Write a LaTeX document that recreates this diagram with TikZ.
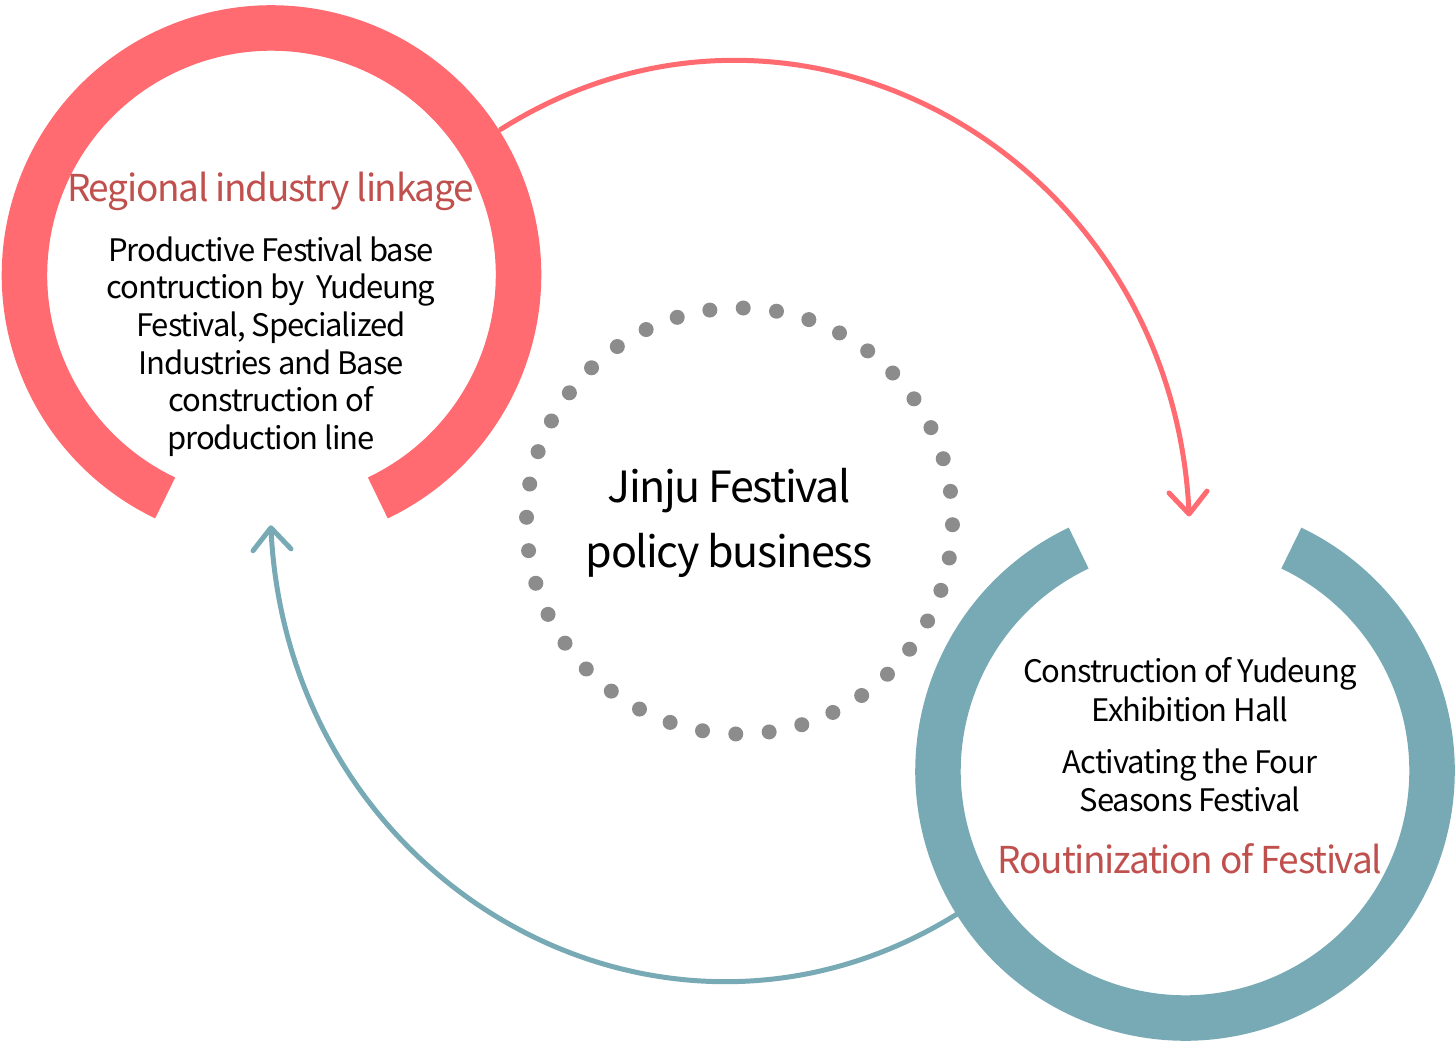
\documentclass[tikz,border=0pt]{standalone}
\usepackage{fontspec}
\setmainfont[LetterSpace=-3.5]{Noto Sans CJK KR}
\usetikzlibrary{arrows.meta}
\definecolor{ringred}{RGB}{255,107,112}
\definecolor{ringteal}{RGB}{119,170,180}
\definecolor{titlered}{RGB}{192,80,77}
\definecolor{dotgray}{RGB}{140,140,140}
\begin{document}
\begin{tikzpicture}[x=1pt,y=1pt,
  ring/.style={line width=45.5pt},
  flow/.style={line width=5pt, line cap=round, -{Straight Barb[length=22pt,width=38pt,round]}},
  body/.style={anchor=base, inner sep=0pt, font=\fontsize{31}{38}\selectfont},
  title/.style={anchor=base, inner sep=0pt, text=titlered, font=\fontsize{37}{44}\selectfont},
  hub/.style={anchor=base, inner sep=0pt, font=\fontsize{43}{52}\selectfont},
  dot/.style={circle, fill=dotgray, minimum size=15pt, inner sep=0pt}
]
\useasboundingbox (0,0) rectangle (1455,-1043);
\fill[white] (0,0) rectangle (1455,-1043);

% curved connectors between the two rings
\coordinate (redFrom) at (500.7,-129.4);
\coordinate (redTo) at (1189.2,-516.5);
\draw[flow, ringred] (redFrom) .. controls (794.9,56.7) and (1171.4,-154.1) .. (redTo);
\coordinate (tealFrom) at (959.3,-912.6);
\coordinate (tealTo) at (270.8,-525.3);
\draw[flow, ringteal] (tealFrom) .. controls (665.1,-1098.7) and (288.6,-887.9) .. (tealTo);

% open rings
\coordinate (redC) at (271.5,-275);
\draw[ring, ringred] (redC) ++(-64.5:247) arc[start angle=-64.5, end angle=244.5, radius=247];
\coordinate (tealC) at (1185,-771);
\draw[ring, ringteal] (tealC) ++(115.5:247) arc[start angle=115.5, end angle=424.5, radius=247];

% dotted hub circle
\coordinate (hubC) at (739.5,-521);
\foreach \i in {0,...,39}
  \path (hubC) ++(89-9*\i:213) node[dot] (d\i) {};

% hub text
\node[hub] (hub1) at (729,-502.7) {Jinju Festival};
\node[hub] (hub2) at (729,-567.3) {policy business};

% left ring text
\node[title] (rt) at (270.5,-201.7) {Regional industry linkage};
\node[body] (r1) at (271,-261) {Productive Festival base};
\node[body] (r2) at (271,-298.7) {contruction by~~Yudeung};
\node[body] (r3) at (271,-336.4) {Festival, Specialized};
\node[body] (r4) at (271,-374.1) {Industries and Base};
\node[body] (r5) at (271,-411.8) {construction of};
\node[body] (r6) at (271,-449.5) {production line};

% right ring text
\node[body] (t1) at (1190,-682.7) {Construction of Yudeung};
\node[body] (t2) at (1190,-721) {Exhibition Hall};
\node[body] (t3) at (1190,-773.3) {Activating the Four};
\node[body] (t4) at (1190,-811) {Seasons Festival};
\node[title] (tt) at (1190,-873.3) {Routinization of Festival};
\end{tikzpicture}
\end{document}
